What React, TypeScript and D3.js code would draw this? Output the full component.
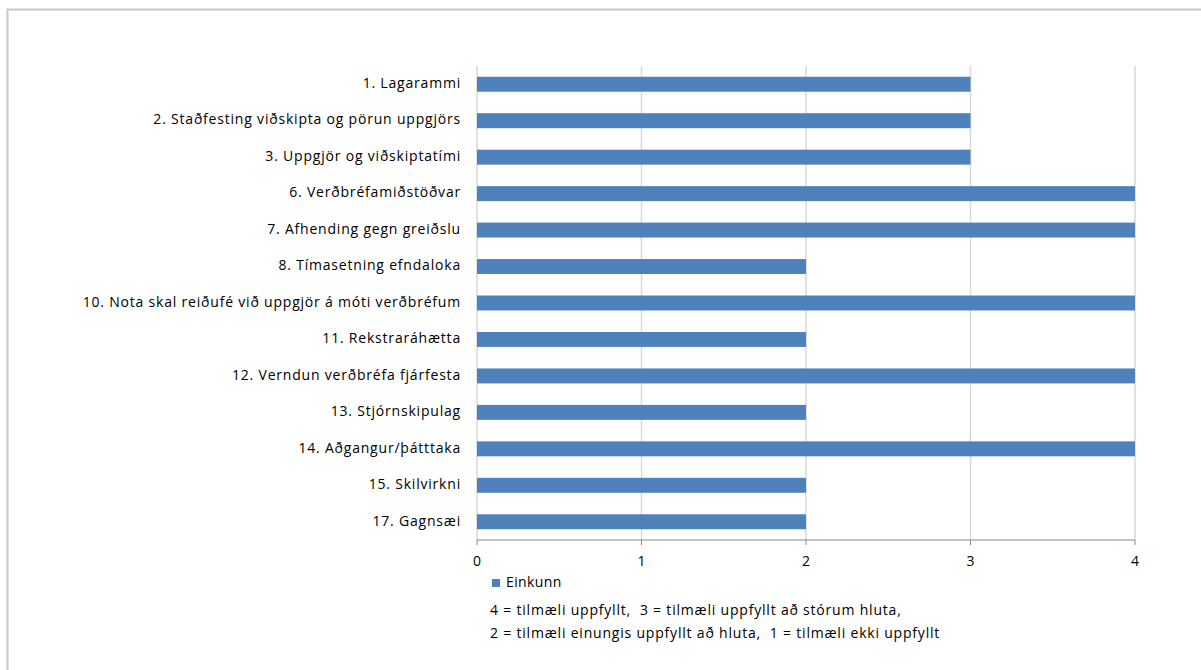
import React from "react";
import * as d3 from "d3";

const categories = [
  "1. Lagarammi",
  "2. Staðfesting viðskipta og pörun uppgjörs",
  "3. Uppgjör og viðskiptatími",
  "6. Verðbréfamiðstöðvar",
  "7. Afhending gegn greiðslu",
  "8. Tímasetning efndaloka",
  "10. Nota skal reiðufé við uppgjör á móti verðbréfum",
  "11. Rekstraráhætta",
  "12. Verndun verðbréfa fjárfesta",
  "13. Stjórnskipulag",
  "14. Aðgangur/þátttaka",
  "15. Skilvirkni",
  "17. Gagnsæi",
];
const values = [3, 3, 3, 4, 4, 2, 4, 2, 4, 2, 4, 2, 2];
const xTicks = [0, 1, 2, 3, 4];
const seriesName = "Einkunn";
const noteLines = [
  "4 = tilmæli uppfyllt,  3 = tilmæli uppfyllt að stórum hluta,",
  "2 = tilmæli einungis uppfyllt að hluta,  1 = tilmæli ekki uppfyllt",
];

const W = 1201;
const H = 670;
const left = 477;
const right = 1135;
const top = 66;
const bottom = 540;
const font = "'Open Sans', sans-serif";
const fs = 14;
const ls = 0.8;

export default function App() {
  const x = d3.scaleLinear().domain([0, 4]).range([left, right]);
  const y = d3
    .scaleBand<string>()
    .domain(categories)
    .range([top, bottom])
    .paddingInner(0.59)
    .paddingOuter(0.295);

  const textStyle = { whiteSpace: "pre" as const };

  return (
    <svg
      width={W}
      height={H}
      style={{ position: "absolute", left: 0, top: 0, background: "#fff" }}
    >
      <rect x={7.5} y={9.5} width={1300} height={800} fill="#fff" stroke="#c8c8c8" strokeWidth={2} />
      {xTicks.map((t) => (
        <line key={"g" + t} x1={x(t)} x2={x(t)} y1={top} y2={bottom} stroke="#d9d9d9" strokeWidth={1.5} />
      ))}
      {categories.map((c, i) => (
        <rect
          key={c}
          x={x(0)}
          y={y(c)!}
          width={x(values[i]) - x(0)}
          height={y.bandwidth()}
          fill="#4f81bd"
        />
      ))}
      <line x1={left} x2={right} y1={bottom} y2={bottom} stroke="#868686" strokeWidth={1} />
      {xTicks.map((t) => (
        <g key={"t" + t}>
          <line x1={x(t)} x2={x(t)} y1={bottom} y2={bottom + 5} stroke="#868686" />
          <text x={x(t)} y={562} textAnchor="middle" dominantBaseline="middle" fontFamily={font} fontSize={fs} fill="#000">
            {t}
          </text>
        </g>
      ))}
      {categories.map((c) => (
        <text
          key={"l" + c}
          x={461}
          y={y(c)! + y.bandwidth() / 2}
          textAnchor="end"
          dominantBaseline="middle"
          fontFamily={font}
          fontSize={fs}
          letterSpacing={ls}
          fill="#000"
          style={textStyle}
        >
          {c}
        </text>
      ))}
      <rect x={492} y={579} width={8} height={8} fill="#4f81bd" />
      <text x={506} y={583.5} dominantBaseline="middle" fontFamily={font} fontSize={fs} letterSpacing={ls * 0.5} fill="#000">
        {seriesName}
      </text>
      {noteLines.map((l, i) => (
        <text
          key={l}
          x={490}
          y={611 + i * 23}
          dominantBaseline="middle"
          fontFamily={font}
          fontSize={fs}
          letterSpacing={ls}
          fill="#000"
          style={textStyle}
        >
          {l}
        </text>
      ))}
    </svg>
  );
}
